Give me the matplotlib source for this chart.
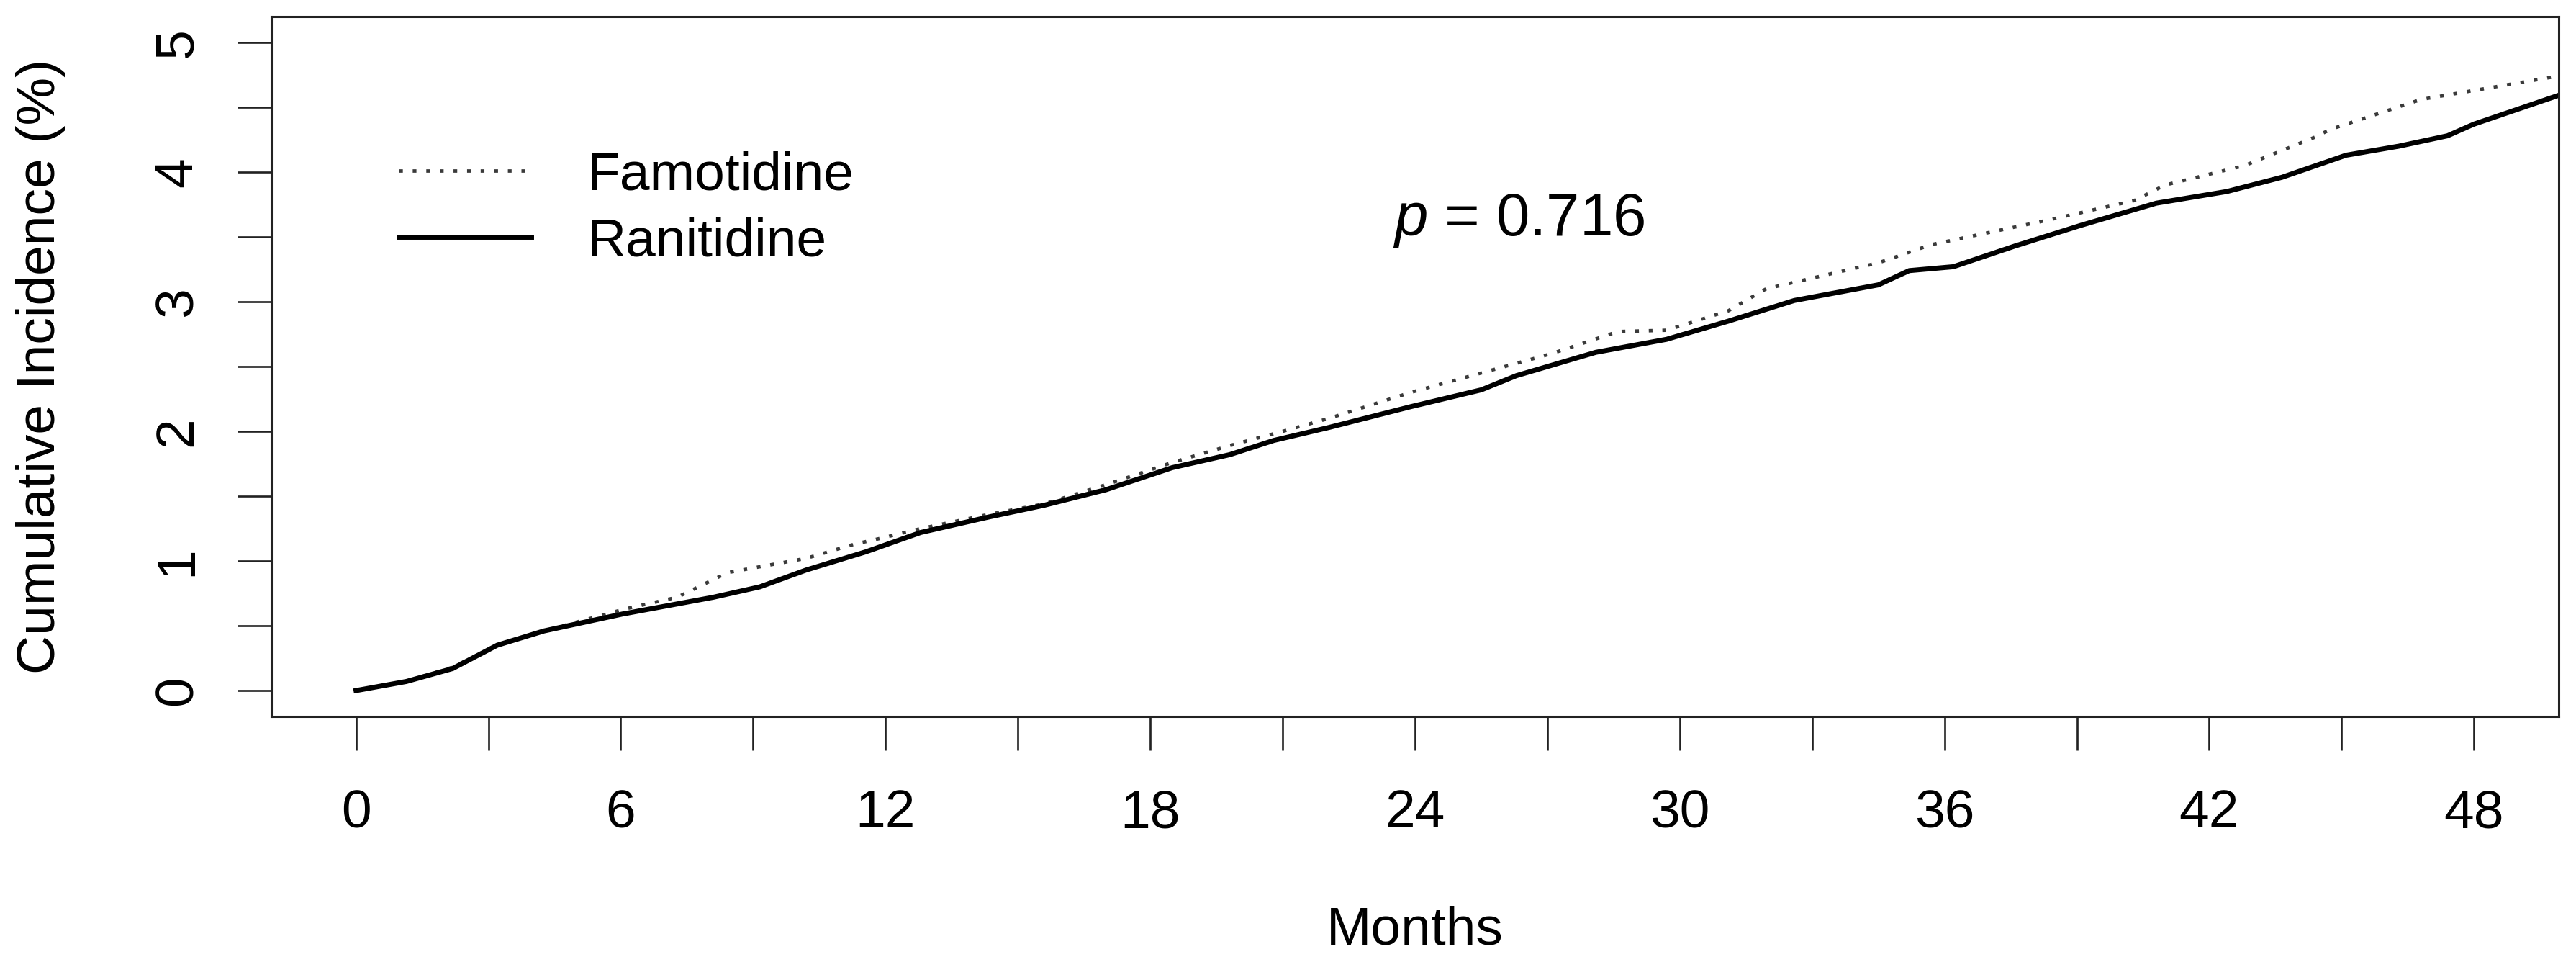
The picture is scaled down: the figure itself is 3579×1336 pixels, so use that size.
import matplotlib
matplotlib.use("Agg")
import matplotlib.pyplot as plt
from matplotlib.ticker import MultipleLocator, NullFormatter

plt.rcParams['font.family'] = ['Liberation Sans', 'DejaVu Sans']
plt.rcParams['mathtext.fontset'] = 'custom'
plt.rcParams['mathtext.it'] = 'Liberation Sans:italic'
plt.rcParams['mathtext.rm'] = 'Liberation Sans'

# Data (months, cumulative incidence %)
rani_months = [0, 1.14, 2.19, 3.2, 4.26, 6.03, 8.1, 9.15, 10.2, 11.55, 12.8, 14.35,
               15.6, 17.0, 18.5, 19.8, 20.8, 22.05, 23.9, 25.5, 26.3, 28.1, 29.7,
               31.1, 32.6, 34.5, 35.2, 36.2, 37.6, 39.1, 40.8, 42.4, 43.65, 45.1,
               46.3, 47.4, 48.0, 49.9]
rani_values = [0, 0.07, 0.17, 0.35, 0.46, 0.59, 0.72, 0.80, 0.93, 1.07, 1.22, 1.34,
               1.43, 1.55, 1.72, 1.82, 1.93, 2.03, 2.19, 2.32, 2.43, 2.61, 2.71,
               2.85, 3.01, 3.13, 3.24, 3.27, 3.43, 3.59, 3.76, 3.85, 3.96, 4.13,
               4.20, 4.28, 4.37, 4.59]

famo_months = [0, 1.14, 2.19, 3.2, 4.26, 6.1, 7.28, 8.42, 10.2, 11.3, 11.96, 12.8,
               14.35, 15.6, 17.1, 18.5, 19.8, 21.0, 22.05, 23.9, 25.5, 27.1, 28.6,
               29.7, 31.1, 31.96, 34.5, 35.7, 38.35, 40.3, 41.0, 42.8, 44.4, 44.75,
               46.8, 49.9]
famo_values = [0, 0.07, 0.18, 0.35, 0.46, 0.63, 0.72, 0.91, 1.02, 1.13, 1.18, 1.25,
               1.36, 1.44, 1.60, 1.76, 1.89, 2.00, 2.10, 2.30, 2.45, 2.60, 2.77,
               2.78, 2.93, 3.10, 3.30, 3.44, 3.63, 3.78, 3.90, 4.05, 4.27, 4.33,
               4.56, 4.74]

series_labels = ["Famotidine", "Ranitidine"]
x_ticks = [0, 6, 12, 18, 24, 30, 36, 42, 48]
y_ticks = [0, 1, 2, 3, 4, 5]
p_text = "0.716"

fig = plt.figure(figsize=(35.8, 13.36), dpi=100)
ax = fig.add_axes([0.1053, 0.2552, 0.9930 - 0.1053, 0.9828 - 0.2552])

ax.plot(famo_months, famo_values, color="#3a3a3a", lw=3.4,
        linestyle=(0, (1.1, 2.9)), label=series_labels[0], clip_on=True)
ax.plot(rani_months, rani_values, color="black", lw=5.0,
        linestyle="-", label=series_labels[1], clip_on=True)

ax.set_xlim(-1.92, 49.92)
ax.set_ylim(-0.2, 5.2)

ax.set_xticks(x_ticks)
ax.set_xticklabels([str(t) for t in x_ticks])
ax.xaxis.set_minor_locator(MultipleLocator(3))
ax.xaxis.set_minor_formatter(NullFormatter())
ax.set_yticks(y_ticks)
ax.set_yticklabels([str(t) for t in y_ticks], rotation=90, va="center")
ax.yaxis.set_minor_locator(MultipleLocator(0.5))
ax.yaxis.set_minor_formatter(NullFormatter())

fs = 54
ax.tick_params(axis="both", which="both", length=34, width=1.9, color="#222222",
               direction="out", labelsize=fs)
ax.tick_params(axis="x", which="both", pad=38)
ax.tick_params(axis="y", which="both", pad=35)

for s in ax.spines.values():
    s.set_linewidth(2.2)
    s.set_color("#222222")

ax.set_xlabel("Months", fontsize=fs, va="center")
ax.xaxis.set_label_coords(0.5, -0.3056)
ax.set_ylabel("Cumulative Incidence (%)", fontsize=fs, va="center", ha="center")
ax.yaxis.set_label_coords(-0.1007, 0.5)

leg = ax.legend(loc="upper left", bbox_to_anchor=(0.0462, 0.839), frameon=False,
                fontsize=fs, handlelength=2.45, handletextpad=1.05,
                labelspacing=0.31, borderaxespad=0)

ax.text(23.5, 3.51, r"$p$ = " + p_text, fontsize=60, ha="left", va="baseline")

fig.savefig("out.png", dpi=100)
